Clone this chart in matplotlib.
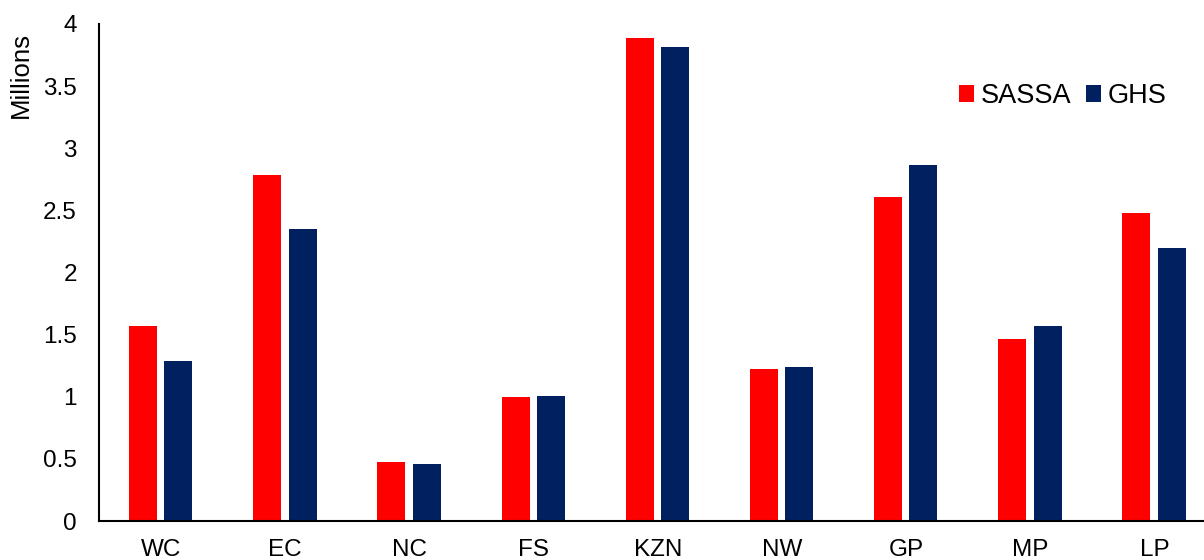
import numpy as np
import matplotlib.pyplot as plt

plt.rcParams.update({
    "font.family": ["Liberation Sans", "DejaVu Sans"],
    "font.size": 17.5,
})

provinces = ["WC", "EC", "NC", "FS", "KZN", "NW", "GP", "MP", "LP"]
sassa = [1.57, 2.785, 0.475, 1.0, 3.89, 1.22, 2.61, 1.465, 2.48]
ghs = [1.29, 2.35, 0.46, 1.01, 3.815, 1.24, 2.865, 1.57, 2.2]

fig = plt.figure(figsize=(12.04, 5.6), dpi=100)
ax = fig.add_axes([99 / 1204, 39 / 560, 1 - 99 / 1204, (521 - 24) / 560])

x = np.arange(len(provinces))
w = 0.225
ax.bar(x - 0.145, sassa, w, color="#FF0000", label="SASSA")
ax.bar(x + 0.14, ghs, w, color="#002060", label="GHS")

ax.set_xlim(-0.5, 8.4)
ax.set_ylim(0, 4)
ax.set_yticks(np.arange(0, 4.01, 0.5))
ax.set_yticklabels(["0", "0.5", "1", "1.5", "2", "2.5", "3", "3.5", "4"])
ax.set_xticks(x)
ax.set_xticklabels(provinces)
ax.tick_params(length=0)
ax.tick_params(axis="y", pad=16)
ax.tick_params(axis="x", pad=13)
ax.set_ylabel("Millions", fontsize=18.5)
ax.yaxis.set_label_coords(-0.0597, 0.897)

for s in ["top", "right"]:
    ax.spines[s].set_visible(False)
for s in ["left", "bottom"]:
    ax.spines[s].set_linewidth(1.5)

ax.legend(loc="upper right", bbox_to_anchor=(0.988, 0.93), frameon=False,
          fontsize=19.5, ncol=2, handlelength=0.55, handleheight=0.55,
          handletextpad=0.25, columnspacing=0.55)

fig.savefig("out.png", dpi=100)
